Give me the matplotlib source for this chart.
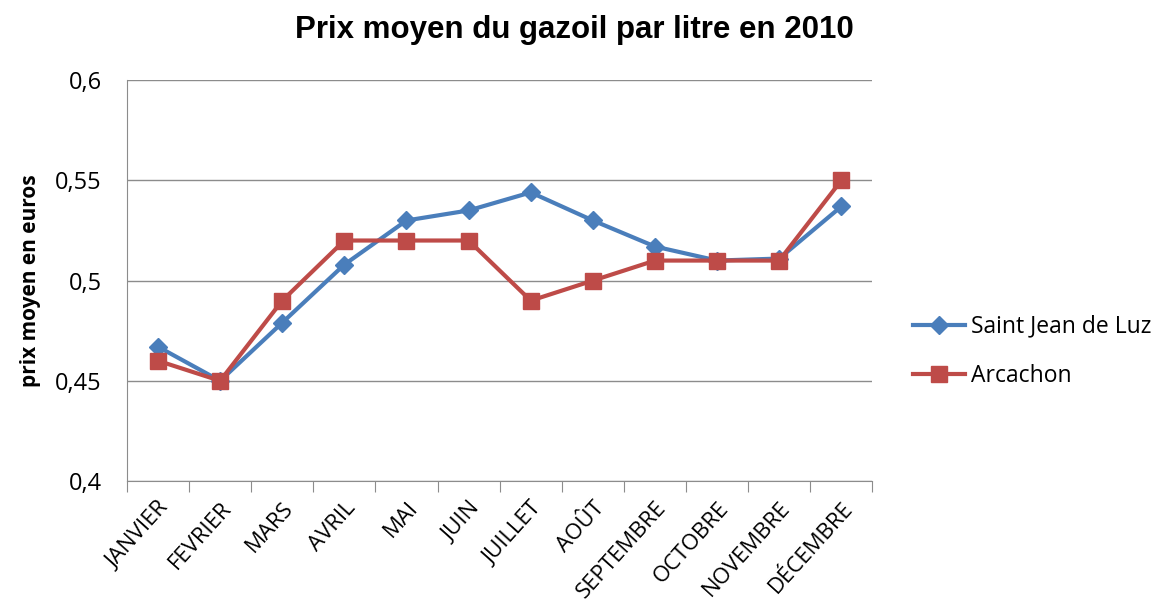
import matplotlib
matplotlib.use("Agg")
import matplotlib.pyplot as plt
from matplotlib.ticker import FixedLocator, FuncFormatter

months = ["JANVIER", "FEVRIER", "MARS", "AVRIL", "MAI", "JUIN", "JUILLET",
          "AOÛT", "SEPTEMBRE", "OCTOBRE", "NOVEMBRE", "DÉCEMBRE"]
saint_jean = [0.467, 0.450, 0.479, 0.508, 0.530, 0.535, 0.544,
              0.530, 0.517, 0.510, 0.511, 0.537]
arcachon = [0.460, 0.450, 0.490, 0.520, 0.520, 0.520, 0.490,
            0.500, 0.510, 0.510, 0.510, 0.550]
y_ticks = [0.4, 0.45, 0.5, 0.55, 0.6]

plt.rcParams["font.family"] = ["Open Sans", "DejaVu Sans"]

fig = plt.figure(figsize=(11.54, 6.12), dpi=100)
ax = fig.add_axes([0.110, 0.214, 0.646, 0.655])

x = list(range(len(months)))
blue = "#4A7EBB"
red = "#BE4B48"

ax.plot(x, saint_jean, color=blue, lw=3, marker="D", ms=9,
        label="Saint Jean de Luz", zorder=3)
ax.plot(x, arcachon, color=red, lw=3, marker="s", ms=12,
        label="Arcachon", zorder=4)

ax.set_xlim(-0.5, len(months) - 0.5)
ax.set_ylim(0.4, 0.6)
ax.yaxis.set_major_locator(FixedLocator(y_ticks))
ax.yaxis.set_major_formatter(FuncFormatter(lambda v, p: f"{v:g}".replace(".", ",")))
ax.grid(axis="y", color="#8c8c8c", lw=1)
ax.set_axisbelow(True)

# ticks at category boundaries, labels at centres
ax.set_xticks([i - 0.5 for i in range(len(months) + 1)])
ax.set_xticklabels([])
ax.set_xticks(x, minor=True)
ax.set_xticklabels(months, minor=True, rotation=48, ha="right",
                   rotation_mode="anchor", fontsize=16)
ax.tick_params(axis="x", which="major", length=8, color="#8c8c8c")
ax.tick_params(axis="x", which="minor", length=0, pad=12)
ax.tick_params(axis="y", length=0, labelsize=17, pad=18)

for side in ["top", "right"]:
    ax.spines[side].set_visible(False)
for side in ["left", "bottom"]:
    ax.spines[side].set_color("#8c8c8c")

ax.set_ylabel("prix moyen en euros", fontsize=15, fontweight="bold", labelpad=10)
fig.suptitle("Prix moyen du gazoil par litre en 2010", x=0.498, y=0.975,
             fontsize=22.5, fontweight="bold", family="Liberation Sans")

ax.legend(loc="center left", bbox_to_anchor=(1.054, 0.324), frameon=False,
          fontsize=16.5, handlelength=2.3, labelspacing=1.1, handletextpad=0.25,
          borderpad=0, borderaxespad=0)

fig.savefig("out.png", dpi=100)
